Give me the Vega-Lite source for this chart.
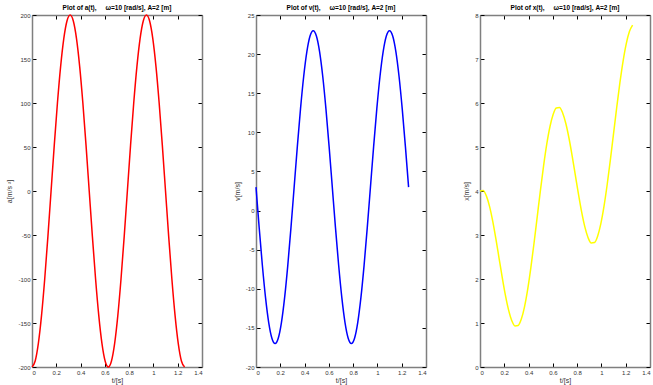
{
  "$schema": "https://vega.github.io/schema/vega-lite/v6.json",
  "background": "white",
  "padding": {"left": 5, "top": 4, "right": 2, "bottom": 2},
  "spacing": 54,
  "bounds": "flush",
  "config": {
    "font": "Liberation Sans",
    "view": {"stroke": null},
    "axis": {
      "grid": false,
      "domainColor": "#7f7f7f",
      "domainWidth": 1.5,
      "tickColor": "#000000",
      "tickSize": -4,
      "tickWidth": 1,
      "labelFontSize": 6,
      "labelColor": "#333333",
      "labelPadding": 6,
      "titleFontSize": 7,
      "titleFontWeight": "normal",
      "titleColor": "#333333",
      "labelExpr": "'' + datum.value"
    },
    "title": {"fontSize": 6.5, "fontWeight": "bold", "offset": 1, "color": "#000000"}
  },
  "datasets": {
    "d": [
      {"t": 0, "a": -200, "v": 3, "x": 4},
      {"t": 0.02618, "a": -193.2, "v": -2.18, "x": 4.0104},
      {"t": 0.05236, "a": -173.2, "v": -7, "x": 3.8892},
      {"t": 0.07854, "a": -141.4, "v": -11.14, "x": 3.6498},
      {"t": 0.10472, "a": -100, "v": -14.32, "x": 3.3142},
      {"t": 0.1309, "a": -51.8, "v": -16.32, "x": 2.9103},
      {"t": 0.15708, "a": 0, "v": -17, "x": 2.4712},
      {"t": 0.18326, "a": 51.8, "v": -16.32, "x": 2.0322},
      {"t": 0.20944, "a": 100, "v": -14.32, "x": 1.6283},
      {"t": 0.23562, "a": 141.4, "v": -11.14, "x": 1.2927},
      {"t": 0.2618, "a": 173.2, "v": -7, "x": 1.0533},
      {"t": 0.28798, "a": 193.2, "v": -2.18, "x": 0.932},
      {"t": 0.31416, "a": 200, "v": 3, "x": 0.9425},
      {"t": 0.34034, "a": 193.2, "v": 8.18, "x": 1.0891},
      {"t": 0.36652, "a": 173.2, "v": 13, "x": 1.3675},
      {"t": 0.3927, "a": 141.4, "v": 17.14, "x": 1.7639},
      {"t": 0.41888, "a": 100, "v": 20.32, "x": 2.2566},
      {"t": 0.44506, "a": 51.8, "v": 22.32, "x": 2.8176},
      {"t": 0.47124, "a": 0, "v": 23, "x": 3.4137},
      {"t": 0.49742, "a": -51.8, "v": 22.32, "x": 4.0099},
      {"t": 0.5236, "a": -100, "v": 20.32, "x": 4.5708},
      {"t": 0.54978, "a": -141.4, "v": 17.14, "x": 5.0635},
      {"t": 0.57596, "a": -173.2, "v": 13, "x": 5.46},
      {"t": 0.60214, "a": -193.2, "v": 8.18, "x": 5.7383},
      {"t": 0.62832, "a": -200, "v": 3, "x": 5.885},
      {"t": 0.6545, "a": -193.2, "v": -2.18, "x": 5.8954},
      {"t": 0.68068, "a": -173.2, "v": -7, "x": 5.7741},
      {"t": 0.70686, "a": -141.4, "v": -11.14, "x": 5.5348},
      {"t": 0.73304, "a": -100, "v": -14.32, "x": 5.1991},
      {"t": 0.75922, "a": -51.8, "v": -16.32, "x": 4.7953},
      {"t": 0.7854, "a": 0, "v": -17, "x": 4.3562},
      {"t": 0.81158, "a": 51.8, "v": -16.32, "x": 3.9171},
      {"t": 0.83776, "a": 100, "v": -14.32, "x": 3.5133},
      {"t": 0.86394, "a": 141.4, "v": -11.14, "x": 3.1776},
      {"t": 0.89012, "a": 173.2, "v": -7, "x": 2.9383},
      {"t": 0.9163, "a": 193.2, "v": -2.18, "x": 2.817},
      {"t": 0.94248, "a": 200, "v": 3, "x": 2.8274},
      {"t": 0.96866, "a": 193.2, "v": 8.18, "x": 2.9741},
      {"t": 0.99484, "a": 173.2, "v": 13, "x": 3.2524},
      {"t": 1.02102, "a": 141.4, "v": 17.14, "x": 3.6489},
      {"t": 1.0472, "a": 100, "v": 20.32, "x": 4.1416},
      {"t": 1.07338, "a": 51.8, "v": 22.32, "x": 4.7025},
      {"t": 1.09956, "a": 0, "v": 23, "x": 5.2987},
      {"t": 1.12574, "a": -51.8, "v": 22.32, "x": 5.8948},
      {"t": 1.15192, "a": -100, "v": 20.32, "x": 6.4558},
      {"t": 1.1781, "a": -141.4, "v": 17.14, "x": 6.9485},
      {"t": 1.20428, "a": -173.2, "v": 13, "x": 7.3449},
      {"t": 1.23046, "a": -193.2, "v": 8.18, "x": 7.6233},
      {"t": 1.25664, "a": -200, "v": 3, "x": 7.7699}
    ]
  },
  "hconcat": [
    {
      "width": 170, "height": 352,
      "title": "Plot of a(t),\u00a0\u00a0\u00a0\u00a0 ω=10 [rad/s], A=2 [m]",
      "data": {"name": "d"},
      "resolve": {"axis": {"x": "independent", "y": "independent"}},
      "layer": [
        {
          "mark": {"type": "line", "color": "#ff0000", "strokeWidth": 1.5, "interpolate": "monotone"},
          "encoding": {
            "x": {"field": "t", "type": "quantitative", "scale": {"domain": [0, 1.4]},
                  "axis": {"values": [0, 0.2, 0.4, 0.6, 0.8, 1, 1.2, 1.4], "title": "t/[s]", "titlePadding": 1}},
            "y": {"field": "a", "type": "quantitative", "scale": {"domain": [-200, 200]},
                  "axis": {"values": [-200, -150, -100, -50, 0, 50, 100, 150, 200], "title": "a[m/s ²]", "titlePadding": 5}}
          }
        },
        {
          "mark": {"type": "line", "opacity": 0},
          "encoding": {
            "x": {"field": "t", "type": "quantitative", "axis": {"orient": "top", "values": [0, 0.2, 0.4, 0.6, 0.8, 1, 1.2, 1.4], "labels": false, "title": null}},
            "y": {"field": "a", "type": "quantitative", "axis": {"orient": "right", "values": [-200, -150, -100, -50, 0, 50, 100, 150, 200], "labels": false, "title": null}}
          }
        }
      ]
    },
    {
      "width": 170, "height": 352,
      "title": "Plot of v(t),\u00a0\u00a0\u00a0\u00a0 ω=10 [rad/s], A=2 [m]",
      "data": {"name": "d"},
      "resolve": {"axis": {"x": "independent", "y": "independent"}},
      "layer": [
        {
          "mark": {"type": "line", "color": "#0000ff", "strokeWidth": 1.5, "interpolate": "monotone"},
          "encoding": {
            "x": {"field": "t", "type": "quantitative", "scale": {"domain": [0, 1.4]},
                  "axis": {"values": [0, 0.2, 0.4, 0.6, 0.8, 1, 1.2, 1.4], "title": "t/[s]", "titlePadding": 1}},
            "y": {"field": "v", "type": "quantitative", "scale": {"domain": [-20, 25]},
                  "axis": {"values": [-20, -15, -10, -5, 0, 5, 10, 15, 20, 25], "title": "v[m/s]", "titlePadding": 5}}
          }
        },
        {
          "mark": {"type": "line", "opacity": 0},
          "encoding": {
            "x": {"field": "t", "type": "quantitative", "axis": {"orient": "top", "values": [0, 0.2, 0.4, 0.6, 0.8, 1, 1.2, 1.4], "labels": false, "title": null}},
            "y": {"field": "v", "type": "quantitative", "axis": {"orient": "right", "values": [-20, -15, -10, -5, 0, 5, 10, 15, 20, 25], "labels": false, "title": null}}
          }
        }
      ]
    },
    {
      "width": 170, "height": 352,
      "title": "Plot of x(t),\u00a0\u00a0\u00a0\u00a0 ω=10 [rad/s], A=2 [m]",
      "data": {"name": "d"},
      "resolve": {"axis": {"x": "independent", "y": "independent"}},
      "layer": [
        {
          "mark": {"type": "line", "color": "#ffff00", "strokeWidth": 1.5, "interpolate": "monotone"},
          "encoding": {
            "x": {"field": "t", "type": "quantitative", "scale": {"domain": [0, 1.4]},
                  "axis": {"values": [0, 0.2, 0.4, 0.6, 0.8, 1, 1.2, 1.4], "title": "t/[s]", "titlePadding": 1}},
            "y": {"field": "x", "type": "quantitative", "scale": {"domain": [0, 8]},
                  "axis": {"values": [0, 1, 2, 3, 4, 5, 6, 7, 8], "title": "x[m/s]", "titlePadding": 5}}
          }
        },
        {
          "mark": {"type": "line", "opacity": 0},
          "encoding": {
            "x": {"field": "t", "type": "quantitative", "axis": {"orient": "top", "values": [0, 0.2, 0.4, 0.6, 0.8, 1, 1.2, 1.4], "labels": false, "title": null}},
            "y": {"field": "x", "type": "quantitative", "axis": {"orient": "right", "values": [0, 1, 2, 3, 4, 5, 6, 7, 8], "labels": false, "title": null}}
          }
        }
      ]
    }
  ]
}
